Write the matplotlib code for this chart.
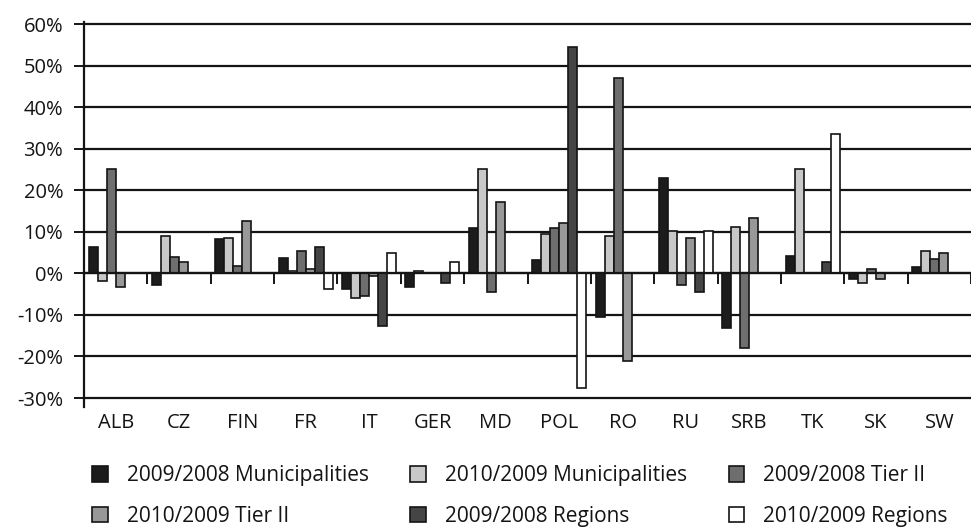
import numpy as np
import matplotlib
matplotlib.use("Agg")
import matplotlib.pyplot as plt
from matplotlib.patches import Patch

plt.rcParams['font.family'] = ['Open Sans', 'DejaVu Sans']

countries = ["ALB", "CZ", "FIN", "FR", "IT", "GER", "MD", "POL",
             "RO", "RU", "SRB", "TK", "SK", "SW"]

# change rates in %
mun_0908 = [6.3, -2.9, 8.2, 3.7, -3.7, -3.2, 10.9, 3.2, -10.4, 22.9, -13.1, 4.2, -1.4, 1.5]
mun_1009 = [-1.8, 8.9, 8.5, 0.5, -6.0, 0.5, 25.0, 9.4, 8.9, 10.2, 11.2, 25.0, -2.3, 5.4]
tier_0908 = [25.0, 4.0, 1.8, 5.4, -5.4, 0.0, -4.5, 10.8, 46.9, -2.7, -18.0, 0.0, 1.0, 3.5]
tier_1009 = [-3.2, 2.7, 12.6, 1.0, -0.6, 0.0, 17.1, 12.1, -21.0, 8.5, 13.4, 0.0, -1.4, 4.9]
reg_0908 = [0.0, 0.0, 0.0, 6.3, -12.6, -2.3, 0.0, 54.5, 0.0, -4.5, 0.0, 2.7, 0.0, 0.0]
reg_1009 = [0.0, 0.0, 0.0, -3.7, 4.9, 2.7, 0.0, -27.7, 0.0, 10.2, 0.0, 33.6, 0.0, 0.0]

series = [
    ("2009/2008 Municipalities", mun_0908, "#1c1c1c"),
    ("2010/2009 Municipalities", mun_1009, "#c8c8c8"),
    ("2009/2008 Tier II", tier_0908, "#6e6e6e"),
    ("2010/2009 Tier II", tier_1009, "#989898"),
    ("2009/2008 Regions", reg_0908, "#454545"),
    ("2010/2009 Regions", reg_1009, "#ffffff"),
]

INK = "#141414"
fig = plt.figure(figsize=(9.71, 5.27), dpi=100)
ax = fig.add_axes([84 / 971, 1 - 398 / 527, 1 - 84 / 971, (398 - 24) / 527])

x = np.arange(len(countries))
w = 0.142
for k, (name, vals, col) in enumerate(series):
    ax.bar(x + (k - 2.5) * w, np.array(vals) / 100, w, color=col,
           edgecolor=INK, linewidth=1.2, zorder=3)

ax.set_xlim(-0.5, len(countries) - 0.5)
ax.set_ylim(-0.3, 0.6)
yt = np.arange(-0.3, 0.61, 0.1)
ax.set_yticks(yt)
ax.set_yticklabels([f"{round(v * 100):d}%" for v in yt], fontsize=14.5, color=INK)
ax.yaxis.grid(True, color=INK, linewidth=1.6, zorder=1)
ax.set_axisbelow(True)
for g in ax.get_ygridlines():
    g.set_clip_on(False)
ax.tick_params(axis="y", direction="out", length=7, width=1.4, pad=8, colors=INK)

# horizontal axis crosses at zero, tick marks between categories
ax.spines["bottom"].set_position(("data", 0))
ax.spines["bottom"].set_color(INK)
ax.spines["bottom"].set_linewidth(1.6)
ax.spines["bottom"].set_zorder(4)
ax.set_xticks(np.arange(len(countries) + 1) - 0.5)
ax.set_xticklabels([])
ax.tick_params(axis="x", direction="out", length=8, width=1.4, colors=INK)
ax.spines["left"].set_linewidth(1.6)
ax.spines["left"].set_color(INK)
ax.spines["left"].set_bounds(-0.322, 0.605)
ax.spines["top"].set_visible(False)
ax.spines["right"].set_visible(False)

trans = ax.get_xaxis_transform()
for i, c in enumerate(countries):
    ax.text(i, -0.04, c, transform=trans, ha="center", va="top",
            fontsize=14.5, color=INK)

handles = [Patch(facecolor=col, edgecolor=INK, linewidth=1.2, label=name)
           for name, _, col in series]
order = [0, 3, 1, 4, 2, 5]  # row-wise filling
fig.legend(handles=[handles[i] for i in order], ncol=3, loc="upper left",
           bbox_to_anchor=(84 / 971, 1 - 457 / 527), frameon=False,
           fontsize=15, handlelength=0.75, handleheight=0.75,
           handletextpad=0.9, columnspacing=2.0, labelspacing=0.93,
           labelcolor=INK, borderaxespad=0)

fig.savefig("out.png", dpi=100)
